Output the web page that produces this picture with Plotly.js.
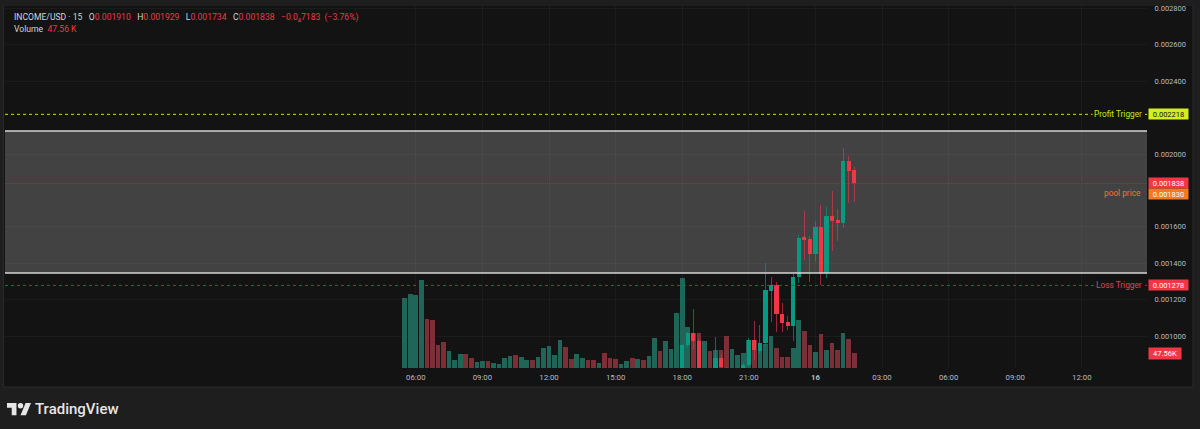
<!DOCTYPE html>
<html><head><meta charset="utf-8">
<script src="https://cdn.plot.ly/plotly-3.0.1.min.js"></script>
<style>html,body{margin:0;padding:0;background:#1e1e1e;overflow:hidden}#chart{width:1200px;height:429px}</style>
</head><body><div id="chart"></div>
<script>
// ---------- DATA ----------
const volumeTimes = [
"2025-01-15 05:30","2025-01-15 05:45","2025-01-15 06:00","2025-01-15 06:15","2025-01-15 06:30","2025-01-15 06:45",
"2025-01-15 07:00","2025-01-15 07:15","2025-01-15 07:30","2025-01-15 07:45","2025-01-15 08:00","2025-01-15 08:15",
"2025-01-15 08:30","2025-01-15 08:45","2025-01-15 09:00","2025-01-15 09:15","2025-01-15 09:30","2025-01-15 09:45",
"2025-01-15 10:00","2025-01-15 10:15","2025-01-15 10:30","2025-01-15 10:45","2025-01-15 11:00","2025-01-15 11:15",
"2025-01-15 11:30","2025-01-15 11:45","2025-01-15 12:00","2025-01-15 12:15","2025-01-15 12:30","2025-01-15 12:45",
"2025-01-15 13:00","2025-01-15 13:15","2025-01-15 13:30","2025-01-15 13:45","2025-01-15 14:00","2025-01-15 14:15",
"2025-01-15 14:30","2025-01-15 14:45","2025-01-15 15:00","2025-01-15 15:15","2025-01-15 15:30","2025-01-15 15:45",
"2025-01-15 16:00","2025-01-15 16:15","2025-01-15 16:30","2025-01-15 16:45","2025-01-15 17:00","2025-01-15 17:15",
"2025-01-15 17:30","2025-01-15 17:45","2025-01-15 18:00","2025-01-15 18:15","2025-01-15 18:30","2025-01-15 18:45",
"2025-01-15 19:00","2025-01-15 19:15","2025-01-15 19:30","2025-01-15 19:45","2025-01-15 20:00","2025-01-15 20:15",
"2025-01-15 20:30","2025-01-15 20:45","2025-01-15 21:00","2025-01-15 21:15","2025-01-15 21:30","2025-01-15 21:45",
"2025-01-15 22:00","2025-01-15 22:15","2025-01-15 22:30","2025-01-15 22:45","2025-01-15 23:00","2025-01-15 23:15",
"2025-01-15 23:30","2025-01-15 23:45","2025-01-16 00:00","2025-01-16 00:15","2025-01-16 00:30","2025-01-16 00:45",
"2025-01-16 01:00","2025-01-16 01:15","2025-01-16 01:30","2025-01-16 01:45"];
const volumeK = [226,241,236,286,159,156,74,84,54,26,44,45,33,18,24,24,15,13,33,39,
42,37,25,27,35,64,70,43,90,68,30,45,31,27,26,17,48,31,30,13,
22,31,30,27,40,97,56,87,62,178,293,134,112,112,89,54,58,58,103,60,
41,50,90,90,79,79,103,64,36,36,66,156,121,75,51,111,59,80,59,114,94,47.56];
const volumeDir = ["g","g","g","g","r","r","r","r","g","g","g","r","r","g","g","r","g","g","g","g",
"r","g","g","r","g","g","g","g","g","r","r","g","g","r","r","g","r","r","r","g",
"g","r","g","r","g","g","r","g","g","g","g","g","r","r","g","r","g","r","r","g",
"g","g","g","r","g","g","g","r","r","r","g","g","r","r","g","r","g","r","r","g","r","r"];

const candleTimes = [
"2025-01-15 18:00","2025-01-15 18:15","2025-01-15 18:30","2025-01-15 18:45","2025-01-15 19:00","2025-01-15 19:15",
"2025-01-15 19:30","2025-01-15 19:45","2025-01-15 20:00","2025-01-15 20:15","2025-01-15 20:30","2025-01-15 20:45",
"2025-01-15 21:00","2025-01-15 21:15","2025-01-15 21:30","2025-01-15 21:45","2025-01-15 22:00","2025-01-15 22:15",
"2025-01-15 22:30","2025-01-15 22:45","2025-01-15 23:00","2025-01-15 23:15","2025-01-15 23:30","2025-01-15 23:45",
"2025-01-16 00:00","2025-01-16 00:15","2025-01-16 00:30","2025-01-16 00:45","2025-01-16 01:00","2025-01-16 01:15",
"2025-01-16 01:30","2025-01-16 01:45"];
const candleOpen  = [0.000800,0.000950,0.001016,0.000972,0.000800,0.000810,0.000800,0.000880,0.000820,0.000800,0.000810,0.000815,0.000840,0.000978,0.000919,0.000960,0.001249,0.001280,0.001121,0.001079,0.001055,0.001326,0.001542,0.001531,0.001451,0.001597,0.001344,0.001661,0.001637,0.001623,0.001960,0.001910];
const candleHigh  = [0.000958,0.001020,0.001148,0.000985,0.000815,0.000815,0.000996,0.000896,0.000830,0.000815,0.000818,0.000850,0.000990,0.001084,0.001060,0.001400,0.001326,0.001298,0.001180,0.001110,0.001340,0.001555,0.001687,0.001549,0.001632,0.001720,0.001710,0.001798,0.001698,0.002031,0.001989,0.001929];
const candleLow   = [0.000790,0.000940,0.000930,0.000790,0.000780,0.000785,0.000790,0.000800,0.000790,0.000785,0.000795,0.000805,0.000830,0.000868,0.000905,0.000950,0.001079,0.001024,0.001024,0.001033,0.000973,0.001290,0.001418,0.001298,0.001408,0.001280,0.001317,0.001469,0.001522,0.001592,0.001732,0.001734];
const candleClose = [0.000950,0.001017,0.000970,0.000800,0.000810,0.000795,0.000880,0.000830,0.000800,0.000810,0.000815,0.000840,0.000978,0.000923,0.000960,0.001253,0.001280,0.001121,0.001073,0.001055,0.001326,0.001540,0.001527,0.001451,0.001597,0.001344,0.001661,0.001634,0.001623,0.001960,0.001907,0.001838];

const profitTrigger = 0.002218;
const lossTrigger = 0.001278;
const poolPrice = 0.001830;
const lastPrice = 0.001838;
const rangeTop = 0.0021264, rangeBottom = 0.0013462;
const lastVolumeLabel = "47.56K";

const priceTicks = [0.0010,0.0012,0.0014,0.0016,0.0020,0.0024,0.0026,0.0028];
const priceTickText = ["0.001000","0.001200","0.001400","0.001600","0.002000","0.002400","0.002600","0.002800"];
const timeTicks = ["2025-01-15 06:00","2025-01-15 09:00","2025-01-15 12:00","2025-01-15 15:00","2025-01-15 18:00","2025-01-15 21:00","2025-01-16 00:00","2025-01-16 03:00","2025-01-16 06:00","2025-01-16 09:00","2025-01-16 12:00"];
const timeTickText = ["06:00","09:00","12:00","15:00","18:00","21:00","<b>16</b>","03:00","06:00","09:00","12:00"];

// ---------- STYLE ----------
const UP = "#089981", DOWN = "#f23645";
const BAR_MS = 900000;
const FONT = "Roboto";
const L = 5, R = 1147, T = 5, B = 368;
const px2x = p => (p - L) / (R - L);
const py2y = p => (B - p) / (B - T);
const GRID = "rgba(255,255,255,0.035)";

// volume
const volTrace = {
  type: "bar", x: volumeTimes, y: volumeK, yaxis: "y", xaxis: "x",
  width: volumeTimes.map(() => BAR_MS * 0.84),
  marker: {color: volumeDir.map(d => d === "g" ? "#1f6658" : "#7c2f37"), line: {width: 0}},
  hoverinfo: "skip"
};

// candles
function split(up) {
  const xs = [], bodyBase = [], bodyH = [], wickBase = [], wickH = [];
  candleTimes.forEach((t, i) => {
    const o = candleOpen[i], c = candleClose[i];
    if ((c >= o) !== up) return;
    xs.push(t);
    bodyBase.push(Math.min(o, c));
    bodyH.push(Math.max(Math.abs(c - o), 0.000003));
    wickBase.push(candleLow[i]);
    wickH.push(candleHigh[i] - candleLow[i]);
  });
  const col = up ? UP : DOWN;
  return [
    {type: "bar", x: xs, y: wickH, base: wickBase, yaxis: "y2", width: xs.map(() => BAR_MS * 0.18),
     marker: {color: up ? "rgba(8,153,129,0.65)" : "rgba(242,54,69,0.6)", line: {width: 0}}, hoverinfo: "skip"},
    {type: "bar", x: xs, y: bodyH, base: bodyBase, yaxis: "y2", width: xs.map(() => BAR_MS * 0.76),
     marker: {color: col, line: {width: 0}}, hoverinfo: "skip"}
  ];
}
const traces = [volTrace, ...split(true), ...split(false)];

// logo geometry (TradingView mark)
const s = 0.676, ox = 7, oy = 400.3;
const lp = (X, Y) => px2x(ox + s * X).toFixed(5) + "," + py2y(oy + s * Y).toFixed(5);
const logoT = "M" + lp(14,22) + " L" + lp(7,22) + " L" + lp(7,11) + " L" + lp(0,11) + " L" + lp(0,4) + " L" + lp(14,4) + " Z";
const logoP = "M" + lp(28,22) + " L" + lp(20,22) + " L" + lp(27.5,4) + " L" + lp(35.5,4) + " Z";

const shapes = [
  {type: "rect", xref: "paper", yref: "paper", x0: px2x(3.5), x1: px2x(1193), y0: py2y(387), y1: py2y(5),
   fillcolor: "#131313", line: {color: "#2a2a2a", width: 1}, layer: "below"},
  {type: "rect", xref: "paper", yref: "y2", x0: 0, x1: 1, y0: rangeBottom, y1: rangeTop,
   fillcolor: "rgba(110,110,110,0.52)", line: {width: 0}, layer: "below"},
  {type: "line", xref: "paper", yref: "y2", x0: 0, x1: 1, y0: rangeTop, y1: rangeTop, line: {color: "#d6d6d6", width: 1.5}},
  {type: "line", xref: "paper", yref: "y2", x0: 0, x1: 1, y0: rangeBottom, y1: rangeBottom, line: {color: "#d6d6d6", width: 1.5}},
  {type: "line", xref: "paper", yref: "y2", x0: 0, x1: 1, y0: lastPrice, y1: lastPrice, line: {color: "rgba(242,54,69,0.45)", width: 1, dash: "1px,1px"}},
  {type: "line", xref: "paper", yref: "y2", x0: 0, x1: 1, y0: profitTrigger, y1: profitTrigger, line: {color: "#c9e31b", width: 1, dash: "3px,3px"}},
  {type: "line", xref: "paper", yref: "y2", x0: 0, x1: 1, y0: lossTrigger, y1: lossTrigger, line: {color: "#a8303c", width: 1, dash: "3px,3px"}},
  {type: "rect", xref: "paper", yref: "paper", x0: px2x(0), x1: px2x(1200), y0: py2y(5), y1: py2y(0),
   fillcolor: "#1e1e1e", line: {width: 0}, layer: "above"},
  {type: "path", xref: "paper", yref: "paper", path: logoT, fillcolor: "#e6e6e6", line: {width: 0}, layer: "above"},
  {type: "path", xref: "paper", yref: "paper", path: logoP, fillcolor: "#e6e6e6", line: {width: 0}, layer: "above"},
  {type: "circle", xref: "paper", yref: "paper", x0: px2x(ox + s*16), x1: px2x(ox + s*24), y0: py2y(oy + s*12), y1: py2y(oy + s*4),
   fillcolor: "#e6e6e6", line: {width: 0}, layer: "above"}
];

const red = t => '<span style="color:#f23645">' + t + '</span>';
const gap = "   ";
const labelFont = {family: FONT, size: 7.5, color: "#ffffff"};
const annotations = [
  {xref: "paper", yref: "paper", x: px2x(12), y: py2y(17), xanchor: "left", yanchor: "middle", showarrow: false,
   font: {family: FONT, size: 8.6, color: "#d1d4dc"},
   text: "INCOME/USD · 15" + gap + "O" + red("0.001910") + gap + "H" + red("0.001929") + gap + "L" + red("0.001734") + gap + "C" + red("0.001838") + gap + red("−0.0₄7183  (−3.76%)")},
  {xref: "paper", yref: "paper", x: px2x(12), y: py2y(29.3), xanchor: "left", yanchor: "middle", showarrow: false,
   font: {family: FONT, size: 8.6, color: "#d1d4dc"}, text: "Volume  " + red("47.56 K")},
  {xref: "paper", yref: "y2", x: px2x(1143.5), y: profitTrigger, xanchor: "right", yanchor: "middle", showarrow: false,
   bgcolor: "#131313", borderpad: 1, font: {family: FONT, size: 8.3, color: "#c9e31b"}, text: "Profit Trigger"},
  {xref: "paper", yref: "y2", x: 1, y: profitTrigger, xanchor: "left", yanchor: "middle", xshift: 1, showarrow: false,
   bgcolor: "#d4f01c", width: 38, height: 9, borderpad: 0.5, font: {family: FONT, size: 7.5, color: "#131313"}, text: "0.002218"},
  {xref: "paper", yref: "y2", x: 1, y: lastPrice, xanchor: "left", yanchor: "middle", xshift: 1, showarrow: false,
   bgcolor: "#f23645", width: 38, height: 9, borderpad: 0.5, font: labelFont, text: "0.001838"},
  {xref: "paper", yref: "y2", x: 1, y: poolPrice, xanchor: "left", yanchor: "middle", xshift: 1, yshift: -9.4, showarrow: false,
   bgcolor: "#f57a1d", width: 38, height: 9, borderpad: 0.5, font: labelFont, text: "0.001830"},
  {xref: "paper", yref: "y2", x: px2x(1142.5), y: poolPrice, xanchor: "right", yanchor: "middle", yshift: -7.8, showarrow: false,
   font: {family: FONT, size: 8.3, color: "#e8782a"}, text: "pool price"},
  {xref: "paper", yref: "y2", x: px2x(1143.5), y: lossTrigger, xanchor: "right", yanchor: "middle", showarrow: false,
   bgcolor: "#131313", borderpad: 1, font: {family: FONT, size: 8.3, color: "#e8404f"}, text: "Loss Trigger"},
  {xref: "paper", yref: "y2", x: 1, y: lossTrigger, xanchor: "left", yanchor: "middle", xshift: 1, showarrow: false,
   bgcolor: "#f23645", width: 38, height: 9, borderpad: 0.5, font: labelFont, text: "0.001278"},
  {xref: "paper", yref: "y", x: 1, y: volumeK[volumeK.length - 1], xanchor: "left", yanchor: "middle", xshift: 1, showarrow: false,
   bgcolor: "#f23645", width: 31, height: 9.5, borderpad: 0.5, font: labelFont, text: lastVolumeLabel},
  {xref: "paper", yref: "paper", x: px2x(32.5), y: py2y(408.5), xanchor: "left", yanchor: "middle", showarrow: false,
   font: {family: FONT, size: 15, color: "#e6e6e6", weight: 500}, text: "TradingView"}
];

const layout = {
  width: 1200, height: 429,
  margin: {l: L, r: 1200 - R, t: T, b: 429 - B, pad: 0},
  paper_bgcolor: "#1e1e1e", plot_bgcolor: "rgba(0,0,0,0)",
  showlegend: false, barmode: "overlay", bargap: 0, hovermode: false,
  xaxis: {type: "date", range: ["2025-01-14 11:29:42", "2025-01-16 14:56:12"],
    tickmode: "array", tickvals: timeTicks, ticktext: timeTickText,
    showgrid: true, gridcolor: GRID, gridwidth: 1, zeroline: false, showline: false,
    ticks: "outside", ticklen: 2, tickcolor: "rgba(0,0,0,0)", tickangle: 0,
    tickfont: {family: FONT, size: 7.8, color: "#b8bbc2"}, fixedrange: true},
  yaxis: {range: [0, 1176], visible: false, fixedrange: true, showgrid: false, zeroline: false},
  yaxis2: {overlaying: "y", side: "right", range: [0.0008242, 0.0028187],
    tickmode: "array", tickvals: priceTicks, ticktext: priceTickText,
    showgrid: true, gridcolor: GRID, gridwidth: 1, zeroline: false, showline: false,
    ticks: "outside", ticklen: 5, tickcolor: "rgba(0,0,0,0)",
    tickfont: {family: FONT, size: 7.5, color: "#b8bbc2"}, fixedrange: true},
  shapes: shapes, annotations: annotations
};

Plotly.newPlot("chart", traces, layout, {displayModeBar: false, staticPlot: true});
</script></body></html>
